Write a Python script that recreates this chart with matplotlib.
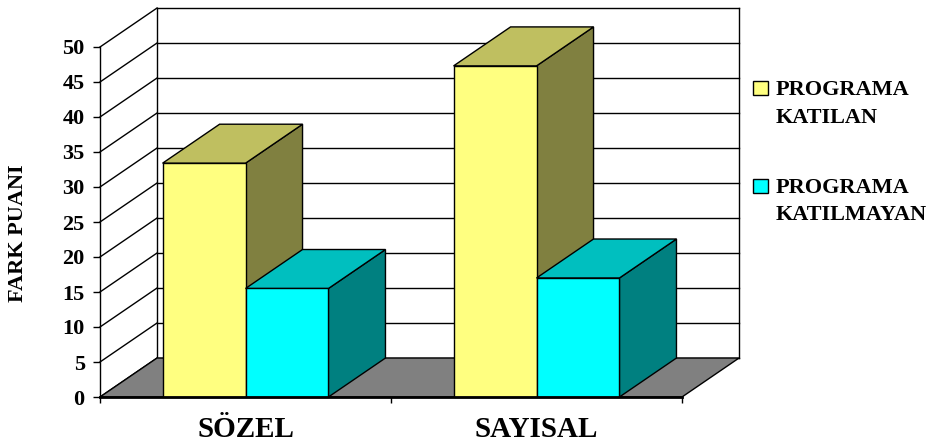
import matplotlib.pyplot as plt
from matplotlib.patches import Rectangle, Polygon

# datos del grafico
kategoriler = ["SÖZEL", "SAYISAL"]
seriler = ["PROGRAMA\nKATILAN", "PROGRAMA\nKATILMAYAN"]
katilan = [33.4, 47.3]
katilmayan = [15.5, 17.0]
yticks = [0, 5, 10, 15, 20, 25, 30, 35, 40, 45, 50]

# colores: frente, arriba, lado
colores = [("#FFFF80", "#BFBF60", "#808040"),
           ("#00FFFF", "#00BFBF", "#008080")]

plt.rcParams['font.family'] = ['Liberation Serif', 'DejaVu Serif']
plt.rcParams['font.weight'] = 'bold'

W, H = 938, 444
fig = plt.figure(figsize=(W / 100, H / 100), dpi=100)
ax = fig.add_axes([100 / W, 47 / H, 582 / W, 350 / H])
ax.set_xlim(0, 2)
ax.set_ylim(0, 50)
ax.patch.set_visible(False)

# profundidad 3D en unidades de datos
DX = 0.196
DY = 5.57
ymax = yticks[-1]
lk = dict(color="black", lw=1.0, clip_on=False, zorder=1)

# pared del fondo y pared lateral
for v in yticks:
    ax.plot([DX, 2 + DX], [v + DY, v + DY], **lk)
    ax.plot([0, DX], [v, v + DY], **lk)
ax.plot([DX, DX], [DY, ymax + DY], **lk)
ax.plot([2 + DX, 2 + DX], [DY, ymax + DY], **lk)

# piso
ax.add_patch(Polygon([(0, 0), (2, 0), (2 + DX, DY), (DX, DY)], closed=True,
                     facecolor="#808080", edgecolor="black", lw=1.0,
                     clip_on=False, zorder=2))

# barras 3D
bw = 0.285
for i in range(len(kategoriler)):
    for j, vals in enumerate([katilan, katilmayan]):
        h = vals[i]
        x0 = i + 0.5 + (j - 1) * bw
        fr, ar, la = colores[j]
        kw = dict(edgecolor="black", lw=1.0, clip_on=False, zorder=3)
        ax.add_patch(Polygon([(x0 + bw, 0), (x0 + bw + DX, DY),
                              (x0 + bw + DX, h + DY), (x0 + bw, h)],
                             closed=True, facecolor=la, **kw))
        ax.add_patch(Polygon([(x0, h), (x0 + bw, h), (x0 + bw + DX, h + DY),
                              (x0 + DX, h + DY)], closed=True, facecolor=ar, **kw))
        ax.add_patch(Rectangle((x0, 0), bw, h, facecolor=fr, **kw))

# ejes
for s in ["top", "right"]:
    ax.spines[s].set_visible(False)
ax.spines["left"].set_linewidth(1.0)
ax.spines["bottom"].set_linewidth(2.0)
ax.spines["bottom"].set_zorder(4)
ax.set_yticks(yticks)
ax.set_yticklabels([str(v) for v in yticks], fontsize=16, fontweight="bold")
ax.tick_params(axis="y", length=5, width=1.0, pad=6)
ax.set_xticks([0, 1, 2])
ax.set_xticklabels([])
ax.tick_params(axis="x", which="major", length=4.5, width=1.0)
ax.set_xticks([0.5, 1.5], minor=True)
ax.set_xticklabels(kategoriler, minor=True, fontsize=21, fontweight="bold")
ax.tick_params(axis="x", which="minor", length=0, pad=14)

fig.text(18 / W, 1 - 233 / H, "FARK PUANI", rotation=90, fontsize=16,
         fontweight="bold", ha="center", va="center")

# leyenda
ly = [(81, 95, 123), (179, 193, 220)]
for j, (sq, b1, b2) in enumerate(ly):
    fig.add_artist(Rectangle((753 / W, 1 - (sq + 14) / H), 15 / W, 14 / H,
                             facecolor=colores[j][0], edgecolor="black",
                             lw=1.0, transform=fig.transFigure))
    l1, l2 = seriler[j].split("\n")
    fig.text(776 / W, 1 - b1 / H, l1, fontsize=16, fontweight="bold", va="baseline")
    fig.text(776 / W, 1 - b2 / H, l2, fontsize=16, fontweight="bold", va="baseline")

fig.savefig("out.png", dpi=100)
